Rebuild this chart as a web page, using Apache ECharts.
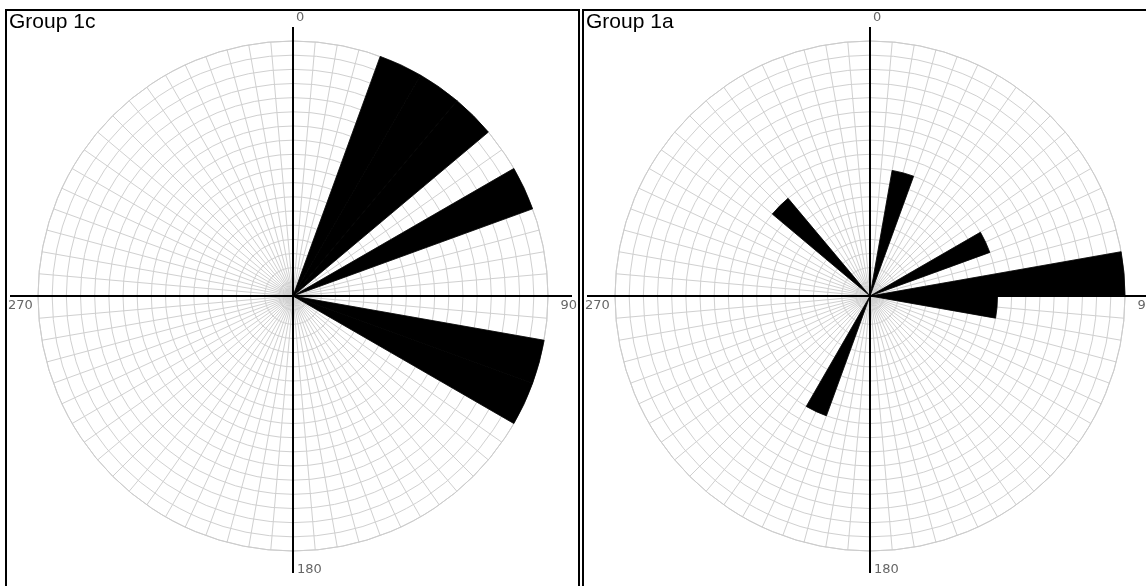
<!DOCTYPE html>
<html>
<head>
<meta charset="utf-8">
<script src="https://cdn.jsdelivr.net/npm/echarts@6/dist/echarts.min.js"></script>
<style>
  html, body { margin: 0; padding: 0; background: #fff; }
  #chart { width: 1146px; height: 586px; }
</style>
</head>
<body>
<div id="chart"></div>
<script>
// 10 degree direction bins, clockwise from north
const bins = []
for (let a = 0; a < 360; a += 10) bins.push(String(a))

const titles = ['Group 1c', 'Group 1a']
const group1c = [0, 0, 18, 18, 18, 0, 18, 0, 0, 0, 18, 18,
  0, 0, 0, 0, 0, 0, 0, 0, 0, 0, 0, 0,
  0, 0, 0, 0, 0, 0, 0, 0, 0, 0, 0, 0]
const group1a = [0, 9, 0, 0, 0, 0, 9, 0, 18, 9, 0, 0,
  0, 0, 0, 0, 0, 0, 0, 0, 9, 0, 0, 0,
  0, 0, 0, 0, 0, 0, 0, 9, 0, 0, 0, 0]
const axisNames = ['0', '90', '180', '270']
const radiusMax = 18

const chart = echarts.init(document.getElementById('chart'))

const panels = [
  { left: 6, cx: 293, cy: 296, data: group1c },
  { left: 583, cx: 870, cy: 296, data: group1a }
]
const R = 255

const polar = []
const angleAxis = []
const radiusAxis = []
const series = []
const graphic = []

panels.forEach((p, i) => {
  // grid polar
  polar.push({ center: [p.cx, p.cy], radius: R })
  angleAxis.push({
    polarIndex: i * 2,
    type: 'value',
    min: 0,
    max: 360,
    interval: 5,
    startAngle: 90,
    clockwise: true,
    axisLine: { lineStyle: { color: '#cccccc', width: 1 } },
    axisTick: { show: false },
    axisLabel: { show: false },
    splitLine: { lineStyle: { color: '#d0d0d0', width: 1 } }
  })
  radiusAxis.push({
    polarIndex: i * 2,
    type: 'value',
    min: 0,
    max: radiusMax,
    interval: 1,
    axisLine: { show: false },
    axisTick: { show: false },
    axisLabel: { show: false },
    splitLine: { lineStyle: { color: '#d0d0d0', width: 1 } }
  })
  // bar polar
  polar.push({ center: [p.cx, p.cy], radius: R })
  angleAxis.push({
    polarIndex: i * 2 + 1,
    type: 'category',
    data: bins,
    startAngle: 90,
    clockwise: true,
    boundaryGap: true,
    axisLine: { show: false },
    axisTick: { show: false },
    axisLabel: { show: false },
    splitLine: { show: false }
  })
  radiusAxis.push({
    polarIndex: i * 2 + 1,
    type: 'value',
    min: 0,
    max: radiusMax,
    axisLine: { show: false },
    axisTick: { show: false },
    axisLabel: { show: false },
    splitLine: { show: false }
  })
  series.push({
    type: 'bar',
    coordinateSystem: 'polar',
    polarIndex: i * 2 + 1,
    data: p.data,
    barCategoryGap: '0%',
    itemStyle: { color: '#000', borderColor: '#000', borderWidth: 0.8 },
    silent: true,
    z: 3
  })

  // panel frame
  graphic.push({
    type: 'rect',
    shape: { x: p.left, y: 10, width: 573, height: 620 },
    style: { fill: 'none', stroke: '#000', lineWidth: 2 },
    z: 10
  })
  graphic.push({
    type: 'text',
    left: p.left + 3,
    top: 12,
    style: { text: titles[i], font: '21px "Liberation Sans", Arial, sans-serif', fill: '#000' },
    z: 10
  })
  // cross axes
  graphic.push({
    type: 'line',
    shape: { x1: p.cx - 283, y1: p.cy, x2: p.cx + 279, y2: p.cy },
    style: { stroke: '#000', lineWidth: 2 },
    z: 5
  })
  graphic.push({
    type: 'line',
    shape: { x1: p.cx, y1: p.cy - 269, x2: p.cx, y2: p.cy + 277 },
    style: { stroke: '#000', lineWidth: 2 },
    z: 5
  })
  const lblFont = '13px "DejaVu Sans", sans-serif'
  const lblColor = '#666'
  graphic.push({ type: 'text', x: p.cx + 3, y: 11, style: { text: axisNames[0], font: lblFont, fill: lblColor }, z: 10 })
  graphic.push({ type: 'text', x: p.cx + 284, y: p.cy + 3, style: { text: axisNames[1], font: lblFont, fill: lblColor, align: 'right' }, z: 10 })
  graphic.push({ type: 'text', x: p.cx + 4, y: p.cy + 267, style: { text: axisNames[2], font: lblFont, fill: lblColor }, z: 10 })
  graphic.push({ type: 'text', x: p.cx - 285, y: p.cy + 3, style: { text: axisNames[3], font: lblFont, fill: lblColor }, z: 10 })
})

chart.setOption({
  animation: false,
  backgroundColor: '#fff',
  polar: polar,
  angleAxis: angleAxis,
  radiusAxis: radiusAxis,
  series: series,
  graphic: graphic
})
</script>
</body>
</html>
